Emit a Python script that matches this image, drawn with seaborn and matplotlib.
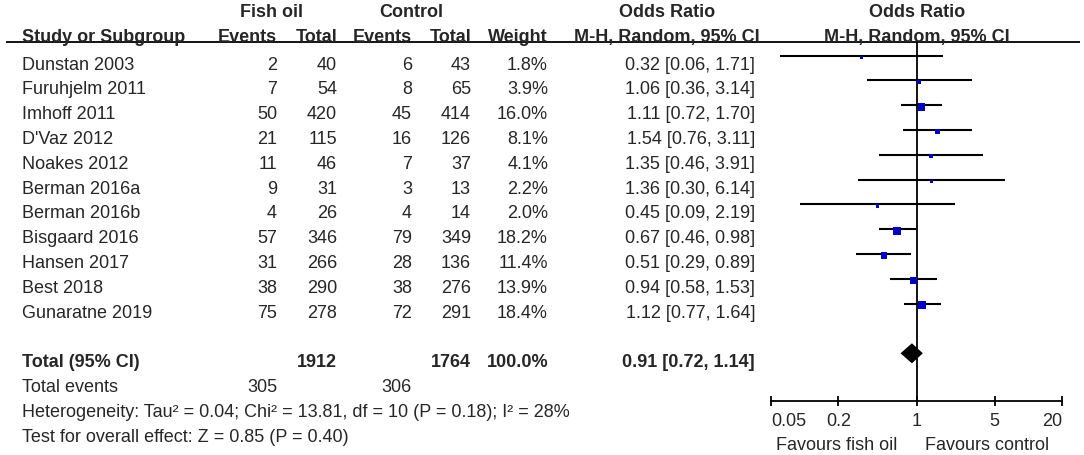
import numpy as np
import matplotlib
matplotlib.use("Agg")
import matplotlib.pyplot as plt
import seaborn as sns

studies = ["Dunstan 2003", "Furuhjelm 2011", "Imhoff 2011", "D'Vaz 2012", "Noakes 2012",
           "Berman 2016a", "Berman 2016b", "Bisgaard 2016", "Hansen 2017", "Best 2018",
           "Gunaratne 2019"]
fish_events = [2, 7, 50, 21, 11, 9, 4, 57, 31, 38, 75]
fish_total = [40, 54, 420, 115, 46, 31, 26, 346, 266, 290, 278]
ctrl_events = [6, 8, 45, 16, 7, 3, 4, 79, 28, 38, 72]
ctrl_total = [43, 65, 414, 126, 37, 13, 14, 349, 136, 276, 291]
weight = [1.8, 3.9, 16.0, 8.1, 4.1, 2.2, 2.0, 18.2, 11.4, 13.9, 18.4]
odds = [0.32, 1.06, 1.11, 1.54, 1.35, 1.36, 0.45, 0.67, 0.51, 0.94, 1.12]
ci_low = [0.06, 0.36, 0.72, 0.76, 0.46, 0.30, 0.09, 0.46, 0.29, 0.58, 0.77]
ci_high = [1.71, 3.14, 1.70, 3.11, 3.91, 6.14, 2.19, 0.98, 0.89, 1.53, 1.64]

total_fish, total_ctrl = 1912, 1764
events_fish, events_ctrl = 305, 306
total_or, total_low, total_high = 0.91, 0.72, 1.14
heterogeneity = "Heterogeneity: Tau² = 0.04; Chi² = 13.81, df = 10 (P = 0.18); I² = 28%"
overall = "Test for overall effect: Z = 0.85 (P = 0.40)"
xticks = [0.05, 0.2, 1, 5, 20]
xticklabels = ["0.05", "0.2", "1", "5", "20"]

sns.set_theme(style="white")
plt.rcParams["font.family"] = ["Liberation Sans", "DejaVu Sans"]
fs = 13

W, H = 1084, 456
row0, step = 56.7, 24.8          # pixel y of first CI line, row spacing


def px2row(y):
    return (y - row0) / step


fig = plt.figure(figsize=(W / 100, H / 100), dpi=100)

# table axes: x in pixels, y in row units
tab = fig.add_axes([0, 0, 1, 1])
tab.set_xlim(0, W)
tab.set_ylim(px2row(H), px2row(0))
tab.axis("off")

rows = np.arange(len(studies))
tot_row = len(studies) + 1
base = 0.52

col_fe, col_ft, col_ce, col_ct, col_w, col_or = 277, 337, 412, 471, 548, 755

# headers
hb = dict(fontsize=fs, fontweight="bold", va="baseline")
tab.text(271, px2row(16.7), "Fish oil", ha="center", **hb)
tab.text(411, px2row(16.7), "Control", ha="center", **hb)
tab.text(667, px2row(16.7), "Odds Ratio", ha="center", **hb)
tab.text(917, px2row(16.7), "Odds Ratio", ha="center", **hb)
yh = px2row(41.7)
tab.text(22, yh, "Study or Subgroup", ha="left", **hb)
tab.text(col_fe, yh, "Events", ha="right", **hb)
tab.text(col_ft, yh, "Total", ha="right", **hb)
tab.text(col_ce, yh, "Events", ha="right", **hb)
tab.text(col_ct, yh, "Total", ha="right", **hb)
tab.text(col_w, yh, "Weight", ha="right", **hb)
tab.text(667, yh, "M-H, Random, 95% CI", ha="center", **hb)
tab.text(917, yh, "M-H, Random, 95% CI", ha="center", **hb)
tab.hlines(px2row(43), 6, 1080, color="black", lw=1.3)

# study rows
tn = dict(fontsize=fs, va="baseline")
for i, s in enumerate(studies):
    y = i + base
    tab.text(22, y, s, ha="left", **tn)
    tab.text(col_fe, y, str(fish_events[i]), ha="right", **tn)
    tab.text(col_ft, y, str(fish_total[i]), ha="right", **tn)
    tab.text(col_ce, y, str(ctrl_events[i]), ha="right", **tn)
    tab.text(col_ct, y, str(ctrl_total[i]), ha="right", **tn)
    tab.text(col_w, y, f"{weight[i]:.1f}%", ha="right", **tn)
    tab.text(col_or, y, f"{odds[i]:.2f} [{ci_low[i]:.2f}, {ci_high[i]:.2f}]", ha="right", **tn)

# totals
y = tot_row + base
tab.text(22, y, "Total (95% CI)", ha="left", **hb)
tab.text(col_ft, y, str(total_fish), ha="right", **hb)
tab.text(col_ct, y, str(total_ctrl), ha="right", **hb)
tab.text(col_w, y, f"{sum(weight):.1f}%", ha="right", **hb)
tab.text(col_or, y, f"{total_or:.2f} [{total_low:.2f}, {total_high:.2f}]", ha="right", **hb)
y = tot_row + 1 + base
tab.text(22, y, "Total events", ha="left", **tn)
tab.text(col_fe, y, str(events_fish), ha="right", **tn)
tab.text(col_ce, y, str(events_ctrl), ha="right", **tn)
tab.text(22, tot_row + 2 + base, heterogeneity, ha="left", **tn)
tab.text(22, tot_row + 3 + base, overall, ha="left", **tn)

tab.text(897, px2row(450), "Favours fish oil", ha="right", **tn)
tab.text(925, px2row(450), "Favours control", ha="left", **tn)

# forest axes
x0, x1, ytop, ybot = 771, 1062, 43, 402
ax = fig.add_axes([x0 / W, (H - ybot) / H, (x1 - x0) / W, (ybot - ytop) / H])
ax.patch.set_alpha(0)
ax.set_xscale("log")
ax.set_xlim(0.05, 20)
ax.set_ylim(px2row(ybot), px2row(ytop))

ax.axvline(1, color="black", lw=1.3, zorder=1)
ax.hlines(rows, ci_low, ci_high, color="black", lw=1.5, zorder=2)
side_px = np.maximum(3.3, 1.9 * np.sqrt(weight))
sns.scatterplot(x=odds, y=rows + 0.06, s=(side_px * 0.72) ** 2, marker="s",
                color="#0000C8", linewidth=0, ax=ax, zorder=3)
hd = 10 / step
ax.fill([total_low, total_or, total_high, total_or],
        [tot_row, tot_row - hd, tot_row, tot_row + hd], color="black", lw=0, zorder=3)

for sp in ["left", "right", "top"]:
    ax.spines[sp].set_visible(False)
ax.spines["bottom"].set_color("black")
ax.spines["bottom"].set_linewidth(1.3)
ax.set_yticks([])
ax.set_xticks(xticks)
ax.xaxis.set_minor_locator(matplotlib.ticker.NullLocator())
ax.set_xticklabels(xticklabels, fontsize=fs)
ax.tick_params(axis="x", direction="inout", length=7.5, width=1.3, color="black", pad=4,
               bottom=True)
labs = ax.get_xticklabels()
labs[0].set_ha("left")
labs[-1].set_ha("right")
ax.set_xlabel("")
ax.set_ylabel("")

fig.savefig("out.png", dpi=100, facecolor="white")
